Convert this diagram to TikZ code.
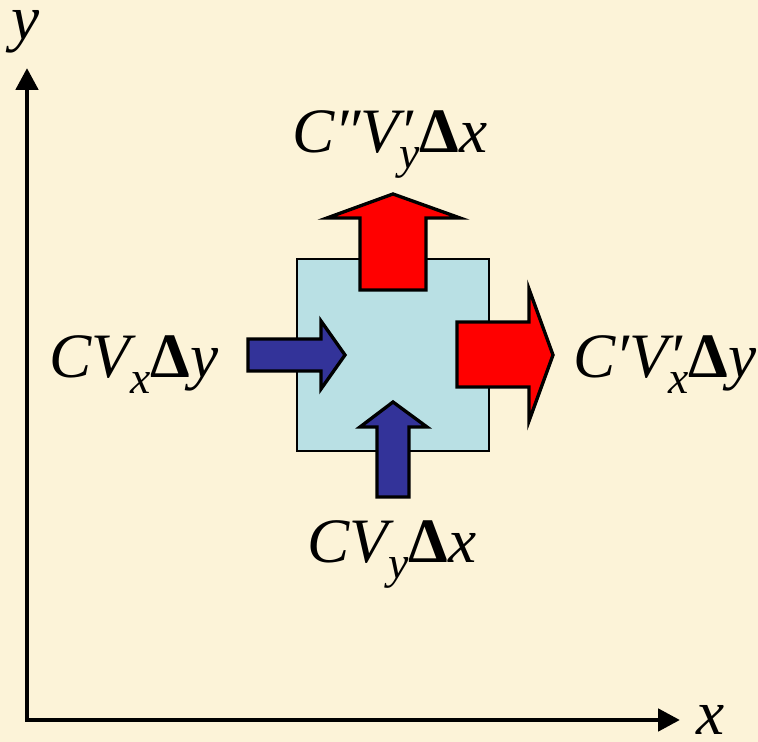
\documentclass[tikz,border=0pt]{standalone}
\usepackage{fontspec}
\setmainfont{Liberation Serif}
\usetikzlibrary{arrows.meta}
\definecolor{nen}{RGB}{252,243,216}
\definecolor{xanhnhat}{RGB}{185,224,228}
\definecolor{xanhdam}{RGB}{51,51,153}
\newcommand{\nhan}{\fontsize{36}{40}\selectfont\itshape}
\newcommand{\chiso}[1]{\raisebox{-0.24em}{\fontsize{26}{28}\selectfont\itshape #1}}
\newcommand{\Dt}{{\upshape\bfseries Δ}}
\begin{document}
\begin{tikzpicture}[x=0.02cm, y=-0.02cm, >={Triangle[length=0.44cm,width=0.44cm]},
	line join=miter, font=\nhan,
	khoi/.style={draw=black, line width=1.1pt, fill=xanhnhat, minimum size=3.84cm, inner sep=0pt},
	muiten/.style={draw=black, line width=1.9pt},
	nhan/.style={anchor=base, inner sep=0pt},
	truc/.style={nhan, text height=0.46em, text depth=0.2em}]
		\fill[nen] (0,0) rectangle (758,742);
		\useasboundingbox (0,0) rectangle (758,742);
		% Định nghĩa tọa độ gốc và hai trục
		\path (27,720) coordinate (O)
		(680,720) coordinate (X)
		(27,68) coordinate (Y);
		% ==================== TRỤC ====================
		\draw[<->, line width=2.8pt] (Y) -- (O) -- (X);
		\node[truc] (tx) at (711,735) {x};
		\node[truc] (ty) at (26,40) {y};
		% ==================== KHỐI ====================
		\node[khoi] (cv) at (393,355) {};
		% ==================== DÒNG VÀO ====================
		\draw[muiten, fill=xanhdam] (248,339) -- (321,339) -- (321,321) -- (345,355)
		-- (321,389) -- (321,371) -- (248,371) -- cycle;
		\draw[muiten, fill=xanhdam] (377,497) -- (377,427) -- (360,427) -- (393,402)
		-- (427,427) -- (409,427) -- (409,497) -- cycle;
		% ==================== DÒNG RA ====================
		\draw[muiten, fill=red] (457,322) -- (529,322) -- (529,289) -- (553,355)
		-- (529,421) -- (529,387) -- (457,387) -- cycle;
		\draw[muiten, fill=red] (360,290) -- (360,218) -- (327,218) -- (393,194)
		-- (460,218) -- (426,218) -- (426,290) -- cycle;
		% ==================== NHÃN ====================
		\node[nhan] (ltop) at (390,153) {C″V\rlap{′}\chiso{y}\Dt x};
		\node[nhan] (lleft) at (134,378) {CV\chiso{x}\Dt y};
		\node[nhan] (lright) at (665,378) {C′V\rlap{′}\chiso{x}\Dt y};
		\node[nhan] (lbot) at (392,563) {CV\chiso{y}\Dt x};
	\end{tikzpicture}
\end{document}
